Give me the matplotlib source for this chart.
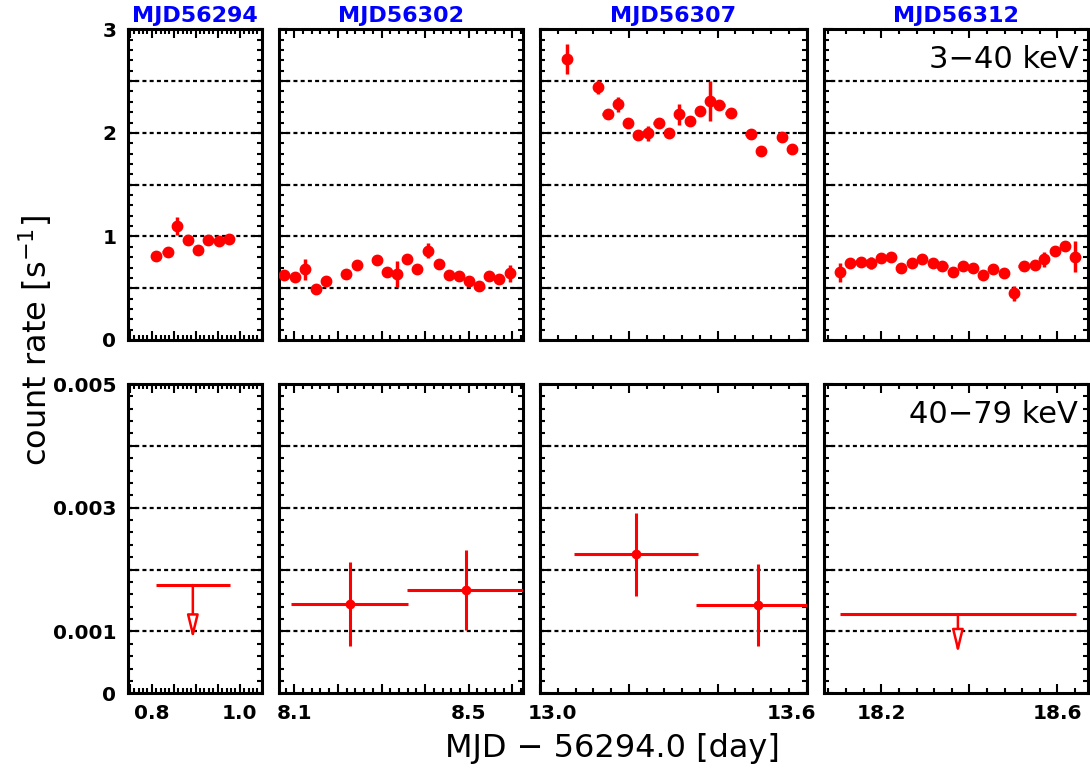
import numpy as np
import matplotlib
matplotlib.use('Agg')
import matplotlib.pyplot as plt
from matplotlib.ticker import MultipleLocator, FuncFormatter
from matplotlib.transforms import ScaledTranslation, blended_transform_factory

plt.rcParams['font.family'] = ['DejaVu Sans']

# observations
obs_names = ['MJD56294', 'MJD56302', 'MJD56307', 'MJD56312']
x_ranges = [(0.745, 1.05), (8.065, 8.625), (13.0, 13.6), (18.07, 18.67)]
x_major = [0.05, 0.1, 0.2, 0.2]
x_labeled = [[0.8, 1.0], [8.1, 8.5], [13.0, 13.6], [18.2, 18.6]]

# 3-40 keV light curves (time, rate, error)
soft_halfbin = 0.0115
soft_t = [
    [0.810, 0.836, 0.858, 0.882, 0.906, 0.929, 0.952, 0.976],
    [8.077, 8.102, 8.125, 8.150, 8.173, 8.219, 8.243, 8.289, 8.312, 8.335, 8.359,
     8.382, 8.407, 8.432, 8.455, 8.478, 8.501, 8.524, 8.547, 8.570, 8.595],
    [13.060, 13.130, 13.152, 13.176, 13.198, 13.220, 13.243, 13.267, 13.291, 13.313,
     13.337, 13.360, 13.382, 13.404, 13.429, 13.474, 13.498, 13.544, 13.568],
    [18.106, 18.130, 18.153, 18.177, 18.199, 18.223, 18.244, 18.269, 18.293, 18.317,
     18.339, 18.362, 18.386, 18.408, 18.431, 18.453, 18.478, 18.502, 18.523, 18.548,
     18.570, 18.594, 18.617, 18.640],
]
soft_r = [
    [0.81, 0.85, 1.10, 0.97, 0.87, 0.965, 0.955, 0.98],
    [0.627, 0.611, 0.682, 0.495, 0.572, 0.637, 0.72, 0.769, 0.656, 0.637, 0.784,
     0.69, 0.862, 0.73, 0.627, 0.617, 0.572, 0.521, 0.617, 0.591, 0.643],
    [2.717, 2.444, 2.18, 2.276, 2.096, 1.984, 1.994, 2.099, 2.003, 2.18,
     2.116, 2.209, 2.308, 2.267, 2.193, 1.987, 1.826, 1.961, 1.842],
    [0.653, 0.74, 0.755, 0.746, 0.788, 0.797, 0.697, 0.746, 0.778, 0.74,
     0.717, 0.659, 0.714, 0.697, 0.627, 0.682, 0.643, 0.45, 0.717, 0.723,
     0.778, 0.862, 0.907, 0.804],
]
soft_e = [
    [0.03, 0.03, 0.09, 0.035, 0.03, 0.05, 0.03, 0.04],
    [0.03, 0.03, 0.10, 0.03, 0.03, 0.03, 0.03, 0.03, 0.03, 0.13, 0.03,
     0.03, 0.07, 0.03, 0.03, 0.03, 0.03, 0.03, 0.03, 0.03, 0.085],
    [0.145, 0.065, 0.03, 0.07, 0.03, 0.03, 0.075, 0.03, 0.03, 0.10,
     0.03, 0.03, 0.19, 0.03, 0.03, 0.03, 0.03, 0.03, 0.03],
    [0.09, 0.03, 0.03, 0.06, 0.03, 0.03, 0.03, 0.03, 0.03, 0.03,
     0.03, 0.03, 0.03, 0.03, 0.03, 0.03, 0.03, 0.075, 0.03, 0.03,
     0.07, 0.03, 0.03, 0.15],
]

# 40-79 keV detections
hard_t = [[], [8.227, 8.494], [13.216, 13.491], []]
hard_terr = [[], [0.1345, 0.1345], [0.14, 0.14], []]
hard_r = [[], [0.00144, 0.00167], [0.00225, 0.00143], []]
hard_e = [[], [0.00068, 0.00064], [0.00067, 0.00066], []]
# 40-79 keV upper limits
ul_t = [[0.8935], [], [], [18.374]]
ul_terr = [[0.0837], [], [], [0.268]]
ul_r = [[0.00175], [], [], [0.00128]]

# panel edges in pixels (figure is 1090 x 768)
px_left = [127.5, 279, 540, 824]
px_right = [261.7, 523.3, 806.5, 1088.3]


def x_formatter(labels):
    def f(v, pos):
        for lab in labels:
            if abs(v - lab) < 1e-6:
                return '%.1f' % lab
        return ''
    return FuncFormatter(f)


def top_y_fmt(v, pos):
    if abs(v - round(v)) < 1e-6:
        return '%d' % round(v)
    return ''


def bot_y_fmt(v, pos):
    if abs(v) < 1e-9:
        return '0'
    k = int(round(v * 1000))
    if abs(v * 1000 - k) < 1e-6 and k % 2 == 1:
        return '%.3f' % v
    return ''


def style(ax, i):
    for s in ax.spines.values():
        s.set_linewidth(2.2)
    ax.tick_params(which='both', direction='in', top=True, right=True, width=1.5)
    ax.tick_params(which='major', length=6.5, pad=8, labelsize=14.5)
    ax.tick_params(which='minor', length=3.5)
    ax.set_xlim(*x_ranges[i])
    ax.xaxis.set_major_locator(MultipleLocator(x_major[i]))
    ax.xaxis.set_minor_locator(MultipleLocator(x_major[i] / 5))


grid_ls = (0, (1.8, 1.45))
fig = plt.figure(figsize=(10.9, 7.68), dpi=100)

for i in range(4):
    l = px_left[i] / 1090
    w = (px_right[i] - px_left[i]) / 1090
    ax = fig.add_axes([l, 1 - 340 / 768, w, (340 - 29.3) / 768])
    axb = fig.add_axes([l, 1 - 693.3 / 768, w, (693.3 - 384) / 768])

    # top: 3-40 keV
    style(ax, i)
    ax.set_ylim(0, 3)
    ax.yaxis.set_major_locator(MultipleLocator(0.5))
    ax.yaxis.set_minor_locator(MultipleLocator(0.1))
    ax.yaxis.set_major_formatter(FuncFormatter(top_y_fmt))
    ax.set_xticklabels([])
    if i > 0:
        ax.set_yticklabels([])
    for g in [0.5, 1.0, 1.5, 2.0, 2.5]:
        ax.axhline(g, color='black', lw=1.6, ls=grid_ls, zorder=1)
    ax.errorbar(soft_t[i], soft_r[i], xerr=soft_halfbin, yerr=soft_e[i], fmt='o',
                color='red', ms=7.5, elinewidth=2.5, capsize=0, zorder=3)
    ax.set_title(obs_names[i], color='blue', fontsize=16, fontweight='bold', pad=5)
    for lab in ax.get_yticklabels():
        lab.set_fontweight('bold')

    # bottom: 40-79 keV
    style(axb, i)
    axb.set_ylim(0, 0.005)
    axb.yaxis.set_major_locator(MultipleLocator(0.001))
    axb.yaxis.set_minor_locator(MultipleLocator(0.0002))
    axb.yaxis.set_major_formatter(FuncFormatter(bot_y_fmt))
    if i > 0:
        axb.set_yticklabels([])
    for g in [0.001, 0.002, 0.003, 0.004]:
        axb.axhline(g, color='black', lw=1.6, ls=grid_ls, zorder=1)
    if hard_t[i]:
        axb.errorbar(hard_t[i], hard_r[i], xerr=hard_terr[i], yerr=hard_e[i], fmt='o',
                     color='red', ms=6, elinewidth=2.2, capsize=0, zorder=3)
    if ul_t[i]:
        axb.errorbar(ul_t[i], ul_r[i], xerr=ul_terr[i], fmt='none',
                     ecolor='red', elinewidth=2.2, zorder=3)
        for x, u in zip(ul_t[i], ul_r[i]):
            axb.annotate('', xy=(x, 0.5 * u), xytext=(x, u),
                         arrowprops=dict(arrowstyle='-|>,head_length=0.7,head_width=0.17',
                                         mutation_scale=20, lw=1.8, ec='red', fc='white',
                                         shrinkA=0, shrinkB=0), zorder=3)

    # x tick labels
    if i == 2:
        axb.xaxis.set_major_formatter(FuncFormatter(lambda v, p: ''))
        trans = blended_transform_factory(axb.transData, axb.transAxes)
        for lab, dx in zip(x_labeled[i], [12.5, -15]):
            axb.text(lab, 0, '%.1f' % lab, fontsize=14.5, fontweight='bold', ha='center', va='top',
                     transform=trans + ScaledTranslation(dx / 100, -8 / 72, fig.dpi_scale_trans))
    else:
        axb.xaxis.set_major_formatter(x_formatter(x_labeled[i]))
    for lab in axb.get_xticklabels() + axb.get_yticklabels():
        lab.set_fontweight('bold')

    if i == 3:
        ax.text(0.962, 0.904, '3\u221240 keV', transform=ax.transAxes, fontsize=22,
                ha='right', va='center')
        axb.text(0.962, 0.903, '40\u221279 keV', transform=axb.transAxes, fontsize=22,
                 ha='right', va='center')

fig.text(0.032, 0.557, 'count rate [s$^{-1}$]', rotation=90, fontsize=23,
         ha='center', va='center')
fig.text(0.5615, 0.026, 'MJD \u2212 56294.0 [day]', fontsize=23, ha='center', va='center')

plt.savefig('out.png', dpi=100)
